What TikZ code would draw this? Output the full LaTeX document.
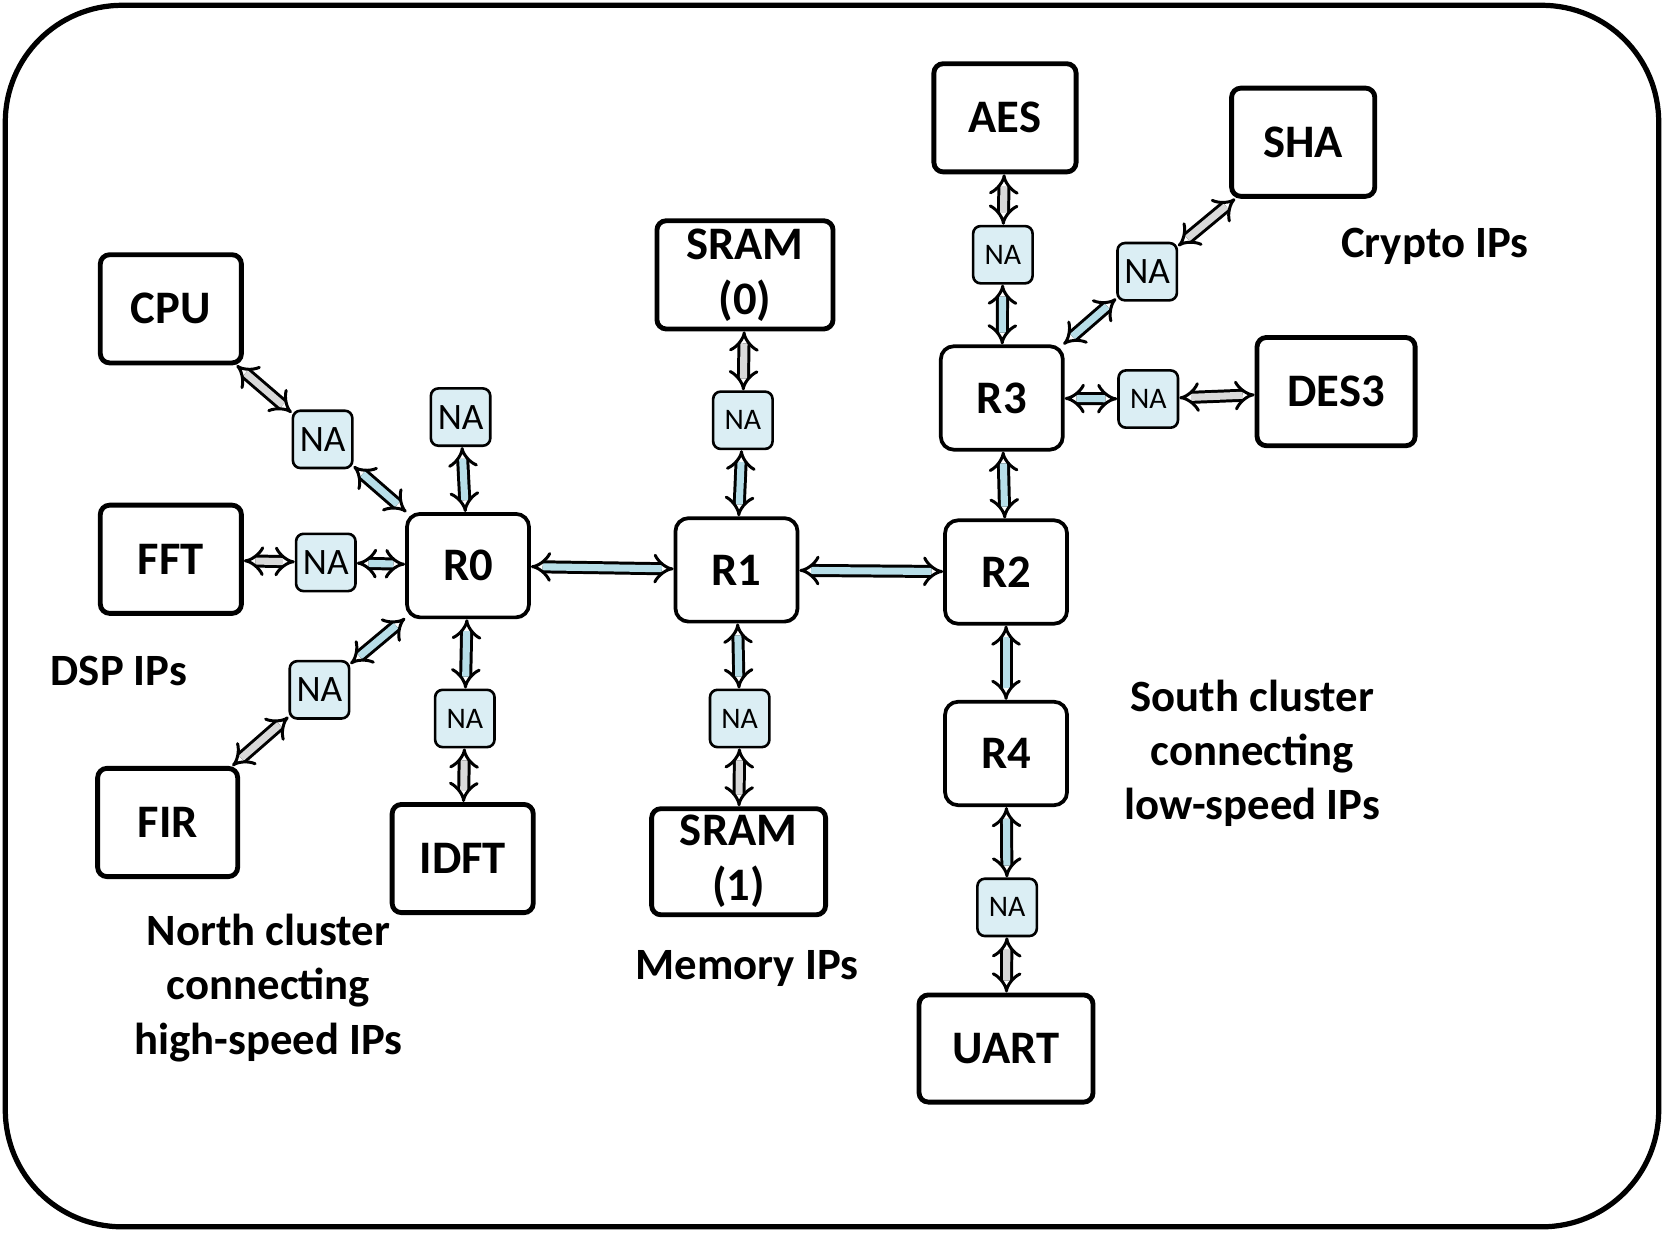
\documentclass[tikz,border=0pt]{standalone}
\usepackage{fontspec}
\setmainfont{Carlito}
\usetikzlibrary{arrows.meta}
\definecolor{nafill}{HTML}{DBEEF4}
\definecolor{linkblue}{HTML}{B7DEE8}
\definecolor{linkgray}{HTML}{D9D9D9}
\tikzset{
 ip/.style={draw, line width=2.6pt, rounded corners=5pt, font=\bfseries\fontsize{25}{29.5}\selectfont, align=center, inner sep=0pt, minimum height=2.04cm},
 router/.style={draw, line width=2pt, rounded corners=7pt, minimum width=2.3cm, minimum height=1.95cm, font=\bfseries\fontsize{25}{30}\selectfont},
 na/.style={draw, line width=1.4pt, fill=nafill, rounded corners=4pt, minimum width=1.12cm, minimum height=1.08cm, inner sep=0pt, font=\fontsize{20}{22}\selectfont},
 nas/.style={na, font=\fontsize{16}{18}\selectfont},
 lnk/.style={double=linkblue, line width=1.6pt, double distance=3.8pt, {Implies}-{Implies}},
 glnk/.style={lnk, double=linkgray},
 lbl/.style={font=\bfseries\fontsize{24}{29}\selectfont, align=center}
}
\begin{document}
\begin{tikzpicture}[x=0.02cm,y=-0.02cm]
\useasboundingbox (0,0) rectangle (1568,1161);
\draw[line width=2.8pt, rounded corners=2.2cm] (5,5) rectangle (1563,1156);
% IP blocks
\node[ip, minimum width=2.66cm] (cpu) at (161,291) {CPU};
\node[ip, minimum width=2.66cm] (fft) at (161,527) {FFT};
\node[ip, minimum width=2.64cm] (fir) at (158,775) {FIR};
\node[ip, minimum width=2.66cm] (idft) at (436,809) {IDFT};
\node[ip, minimum width=3.32cm] (sram0) at (702,259) {SRAM\\(0)};
\node[ip, minimum width=3.28cm, minimum height=2.0cm] (sram1) at (696,812) {SRAM\\(1)};
\node[ip, minimum width=2.68cm] (aes) at (947,111) {AES};
\node[ip, minimum width=2.70cm] (sha) at (1228,134) {SHA};
\node[ip, minimum width=2.98cm] (des) at (1259,369) {DES3};
\node[ip, minimum width=3.28cm, minimum height=2.02cm] (uart) at (948,988) {UART};
% routers
\node[router] (r0) at (441,533) {R0};
\node[router] (r1) at (694,537) {R1};
\node[router] (r2) at (948,539) {R2};
\node[router] (r3) at (944,375) {R3};
\node[router] (r4) at (948,710) {R4};
% network adapters
\node[na] (nacpu) at (304,414) {NA};
\node[na] (natop) at (434,393) {NA};
\node[na] (nafft) at (307,530) {NA};
\node[na] (nafir) at (301,650) {NA};
\node[nas] (naidft) at (438,677) {NA};
\node[nas] (nasram0) at (700,396) {NA};
\node[nas] (nasram1) at (697,677) {NA};
\node[nas] (naaes) at (945,240) {NA};
\node[na] (nasha) at (1081,256) {NA};
\node[nas] (nades) at (1082,376) {NA};
\node[nas] (nauart) at (949,855) {NA};
% links
\draw[glnk] (cpu) -- (nacpu);
\draw[lnk] (nacpu) -- (r0);
\draw[lnk] (natop) -- (r0);
\draw[glnk] (fft) -- (nafft);
\draw[lnk] (nafft) -- (r0);
\draw[lnk] (nafir) -- (r0);
\draw[glnk] (fir) -- (nafir);
\draw[lnk] (naidft) -- (r0);
\draw[glnk] (idft) -- (naidft);
\draw[lnk] (r0) -- (r1);
\draw[lnk] (r1) -- (r2);
\draw[glnk] (sram0) -- (nasram0);
\draw[lnk] (nasram0) -- (r1);
\draw[lnk] (r1) -- (nasram1);
\draw[glnk] (nasram1) -- (sram1);
\draw[lnk] (r2) -- (r3);
\draw[lnk] (r3) -- (naaes);
\draw[glnk] (naaes) -- (aes);
\draw[lnk] (r3) -- (nasha);
\draw[glnk] (nasha) -- (sha);
\draw[lnk] (r3) -- (nades);
\draw[glnk] (nades) -- (des);
\draw[lnk] (r2) -- (r4);
\draw[lnk] (r4) -- (nauart);
\draw[glnk] (nauart) -- (uart);
% labels
\node[lbl] (lcrypto) at (1352,232) {Crypto IPs};
\node[lbl] (ldsp) at (112,632) {DSP IPs};
\node[lbl] (lsouth) at (1180,710) {South cluster\\connecting\\low-speed IPs};
\node[lbl] (lnorth) at (253,931) {North cluster\\connecting\\high-speed IPs};
\node[lbl] (lmem) at (704,913) {Memory IPs};
\end{tikzpicture}
\end{document}
